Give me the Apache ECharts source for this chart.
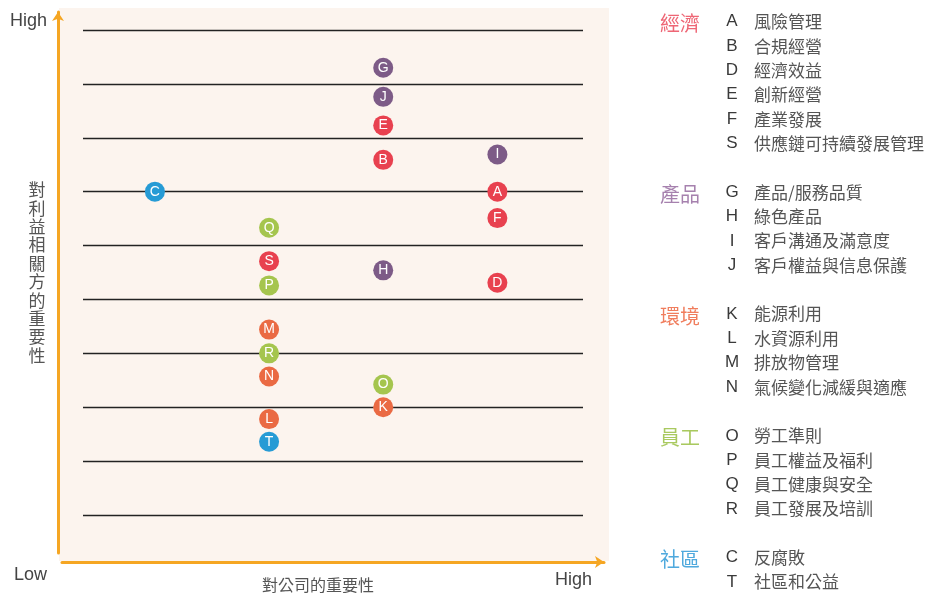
<!DOCTYPE html>
<html>
<head>
<meta charset="utf-8">
<script src="https://cdn.jsdelivr.net/npm/echarts@6/dist/echarts.min.js"></script>
<style>
html,body{margin:0;padding:0;background:#fff;}
#chart{width:931px;height:598px;}
</style>
</head>
<body>
<div id="chart"></div>
<script>
// ---- data ----
const categories = ['經濟', '產品', '環境', '員工', '社區'];
const issueCodes = [
  ['A', 'B', 'D', 'E', 'F', 'S'],
  ['G', 'H', 'I', 'J'],
  ['K', 'L', 'M', 'N'],
  ['O', 'P', 'Q', 'R'],
  ['C', 'T']
];
const issueNames = [
  ['風險管理', '合規經營', '經濟效益', '創新經營', '產業發展', '供應鏈可持續發展管理'],
  ['產品/服務品質', '綠色產品', '客戶溝通及滿意度', '客戶權益與信息保護'],
  ['能源利用', '水資源利用', '排放物管理', '氣候變化減緩與適應'],
  ['勞工準則', '員工權益及福利', '員工健康與安全', '員工發展及培訓'],
  ['反腐敗', '社區和公益']
];
const pointCodes = ['A', 'B', 'C', 'D', 'E', 'F', 'G', 'H', 'I', 'J', 'K', 'L', 'M', 'N', 'O', 'P', 'Q', 'R', 'S', 'T'];
const companyImportance = [4, 3, 1, 4, 3, 4, 3, 3, 4, 3, 3, 2, 2, 2, 3, 2, 2, 2, 2, 2];
const stakeholderImportance = [7.0, 7.59, 7.0, 5.31, 8.23, 6.51, 9.30, 5.54, 7.69, 8.76, 3.0, 2.78, 4.44, 3.57, 3.42, 5.26, 6.33, 4.0, 5.71, 2.36];
const axisEndLabels = ['Low', 'High'];
const xAxisName = '對公司的重要性';
const yAxisName = '對利益相關方的重要性';

// ---- styles ----
const pointColors = ['#E8414F', '#7D5B87', '#EA6A43', '#A5C54E', '#269BD5'];
const headerColors = ['#EE6675', '#A681AE', '#F07D5D', '#A9C95F', '#4FA9DD'];
const orange = '#F5A623';
const cjk = '"Noto Sans CJK TC", "Noto Sans", sans-serif';
const latin = '"Liberation Sans", Arial, sans-serif';

const series = categories.map((cat, ci) => ({
  name: cat,
  type: 'scatter',
  xAxisIndex: 3,
  yAxisIndex: 3,
  symbol: 'circle',
  symbolSize: 20,
  clip: false,
  itemStyle: { color: pointColors[ci], opacity: 1 },
  label: {
    show: true,
    position: 'inside',
    color: '#fff',
    fontSize: 14,
    fontFamily: latin,
    formatter: p => p.data[2]
  },
  emphasis: { disabled: true },
  data: issueCodes[ci].map(code => {
    const i = pointCodes.indexOf(code);
    return [companyImportance[i], stakeholderImportance[i], code];
  })
}));

// legend key as text
const graphics = [];
let row = 0;
const rowH = 24.36, row0 = 21.7;
categories.forEach((cat, ci) => {
  graphics.push({
    type: 'text', x: 660, y: row0 + row * rowH + 2,
    style: { text: cat, fill: headerColors[ci], font: '20px ' + cjk, textAlign: 'left', textVerticalAlign: 'middle' }
  });
  issueCodes[ci].forEach((code, k) => {
    const y = row0 + row * rowH;
    graphics.push({
      type: 'text', x: 732, y: y,
      style: { text: code, fill: '#3a3a3a', font: '17px ' + latin, textAlign: 'center', textVerticalAlign: 'middle' }
    });
    graphics.push({
      type: 'text', x: 754, y: y,
      style: { text: issueNames[ci][k], fill: '#555', font: '17px ' + cjk, textAlign: 'left', textVerticalAlign: 'middle' }
    });
    row++;
  });
  row++;
});

const gridBase = { containLabel: false, outerBoundsMode: 'none' };
const chart = echarts.init(document.getElementById('chart'), null, { renderer: 'canvas' });
chart.setOption({
  animation: false,
  backgroundColor: '#fff',
  grid: [
    Object.assign({ left: 59, right: 322, top: 8, bottom: 37, show: true, backgroundColor: '#FCF4EE', borderWidth: 0 }, gridBase),
    Object.assign({ left: 58, right: 322, top: 12, bottom: 45 }, gridBase),
    Object.assign({ left: 62, right: 327, top: 100, bottom: 36 }, gridBase),
    Object.assign({ left: 83, right: 348, top: 30, bottom: 83 }, gridBase)
  ],
  xAxis: [
    { gridIndex: 0, type: 'value', show: false, min: 0, max: 1 },
    { gridIndex: 1, type: 'value', show: false, min: 0, max: 1 },
    {
      gridIndex: 2, type: 'value', min: 0, max: 1, interval: 1,
      axisLine: { show: true, onZero: false, symbol: ['none', 'arrow'], symbolSize: [9, 9], lineStyle: { color: orange, width: 3 } },
      axisTick: { show: false }, splitLine: { show: false },
      axisLabel: {
        show: true, margin: 8, showMinLabel: true, showMaxLabel: true,
        formatter: v => v === 1 ? '{hi|' + axisEndLabels[1] + '}' : '',
        rich: { hi: { fontSize: 18, lineHeight: 20, color: '#444', fontFamily: latin, align: 'right', padding: [0, 12, 0, 0] } },
        align: 'right'
      },
      name: xAxisName, nameLocation: 'middle', nameGap: 15, nameMoveOverlap: false,
      nameTextStyle: { fontSize: 16, color: '#555', fontFamily: cjk, padding: [0, 30, 0, 0], verticalAlign: 'top' }
    },
    { gridIndex: 3, type: 'value', show: false, min: 0.37, max: 4.75 }
  ],
  yAxis: [
    { gridIndex: 0, type: 'value', show: false, min: 0, max: 1 },
    {
      gridIndex: 1, type: 'value', min: 0, max: 1, interval: 1,
      axisLine: { show: true, onZero: false, symbol: ['none', 'arrow'], symbolSize: [9, 9], lineStyle: { color: orange, width: 3 } },
      axisTick: { show: false }, splitLine: { show: false },
      axisLabel: {
        show: true, margin: 11, verticalAlign: 'top', showMinLabel: true, showMaxLabel: true,
        formatter: v => v === 1 ? '{hi|' + axisEndLabels[1] + '}' : '{lo|' + axisEndLabels[0] + '}',
        rich: {
          hi: { fontSize: 18, lineHeight: 18, color: '#444', fontFamily: latin },
          lo: { fontSize: 18, lineHeight: 44, color: '#444', fontFamily: latin }
        }
      }
    },
    { gridIndex: 2, type: 'value', show: false, min: 0, max: 1 },
    {
      gridIndex: 3, type: 'value', min: 1, max: 10, interval: 1,
      axisLine: { show: false }, axisTick: { show: false }, axisLabel: { show: false },
      splitLine: { show: true, lineStyle: { color: '#222', width: 1.3 } },
      name: yAxisName.split('').join('\n'), nameLocation: 'middle', nameRotate: 0, nameGap: 46, nameMoveOverlap: false,
      nameTextStyle: { fontSize: 17, lineHeight: 18.4, color: '#555', fontFamily: cjk, align: 'center', padding: [5, 0, 0, 0] }
    }
  ],
  series: series,
  graphic: graphics
});
</script>
</body>
</html>
